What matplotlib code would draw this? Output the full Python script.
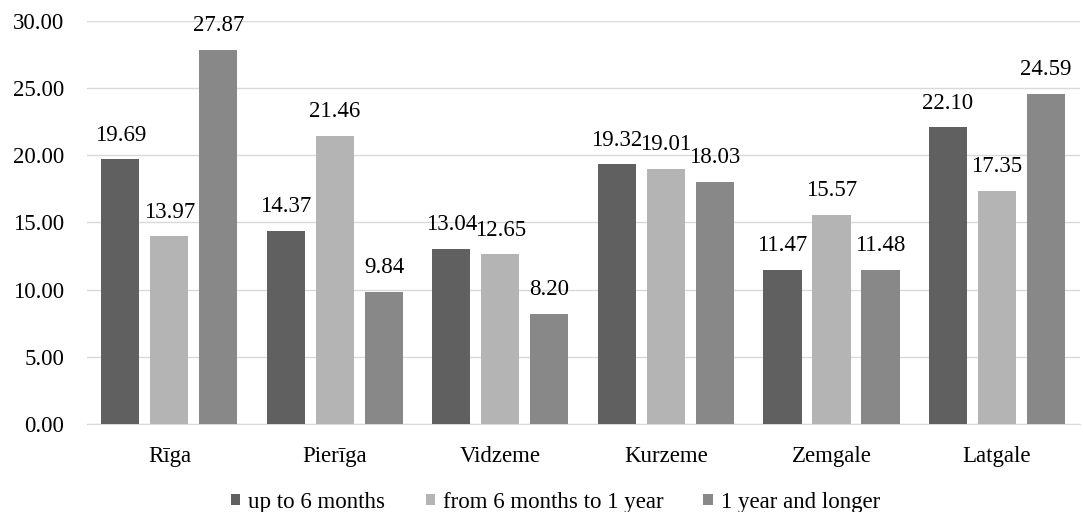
import numpy as np
import matplotlib.pyplot as plt
import matplotlib

matplotlib.rcParams['font.family'] = ['Liberation Serif', 'DejaVu Serif']

regions = ['Rīga', 'Pierīga', 'Vidzeme', 'Kurzeme', 'Zemgale', 'Latgale']
up_to_6m = [19.69, 14.37, 13.04, 19.32, 11.47, 22.10]
from_6m_1y = [13.97, 21.46, 12.65, 19.01, 15.57, 17.35]
over_1y = [27.87, 9.84, 8.20, 18.03, 11.48, 24.59]
series_names = ['up to 6 months', 'from 6 months to 1 year', '1 year and longer']
colors = ['#606060', '#b4b4b4', '#888888']

fig = plt.figure(figsize=(10.83, 5.12), dpi=100)
ax = fig.add_axes([0.080, 0.172, 0.917, 0.787])

x = np.arange(len(regions))
step = 0.296
width = 0.23
for k, (vals, name, c) in enumerate(zip([up_to_6m, from_6m_1y, over_1y], series_names, colors)):
    pos = x + (k - 1) * step
    ax.bar(pos, vals, width=width, color=c, label=name, zorder=3)
    for px, v in zip(pos, vals):
        ax.text(px, v + 1.0, f'{v:.2f}', ha='center', va='bottom', fontsize=16.5)

ax.set_xlim(-0.5, len(regions) - 0.5)
ax.set_ylim(0, 30)
ax.set_yticks(np.arange(0, 31, 5))
ax.set_yticklabels([f'{v:.2f}' for v in np.arange(0, 31, 5)])
ax.set_xticks(x)
ax.set_xticklabels(regions)
ax.tick_params(axis='both', length=0, labelsize=16.5)
ax.tick_params(axis='y', pad=16)
ax.tick_params(axis='x', pad=16)
ax.grid(axis='y', color='#d9d9d9', linewidth=1, zorder=0)
for s in ['top', 'right', 'left']:
    ax.spines[s].set_visible(False)
ax.spines['bottom'].set_color('#d9d9d9')

fig.legend(loc='lower center', bbox_to_anchor=(0.513, -0.042), ncol=3, frameon=False,
           fontsize=16.5, handlelength=0.4, handleheight=0.4, handletextpad=0.35,
           columnspacing=1.75)

fig.savefig('out.png', dpi=100)
